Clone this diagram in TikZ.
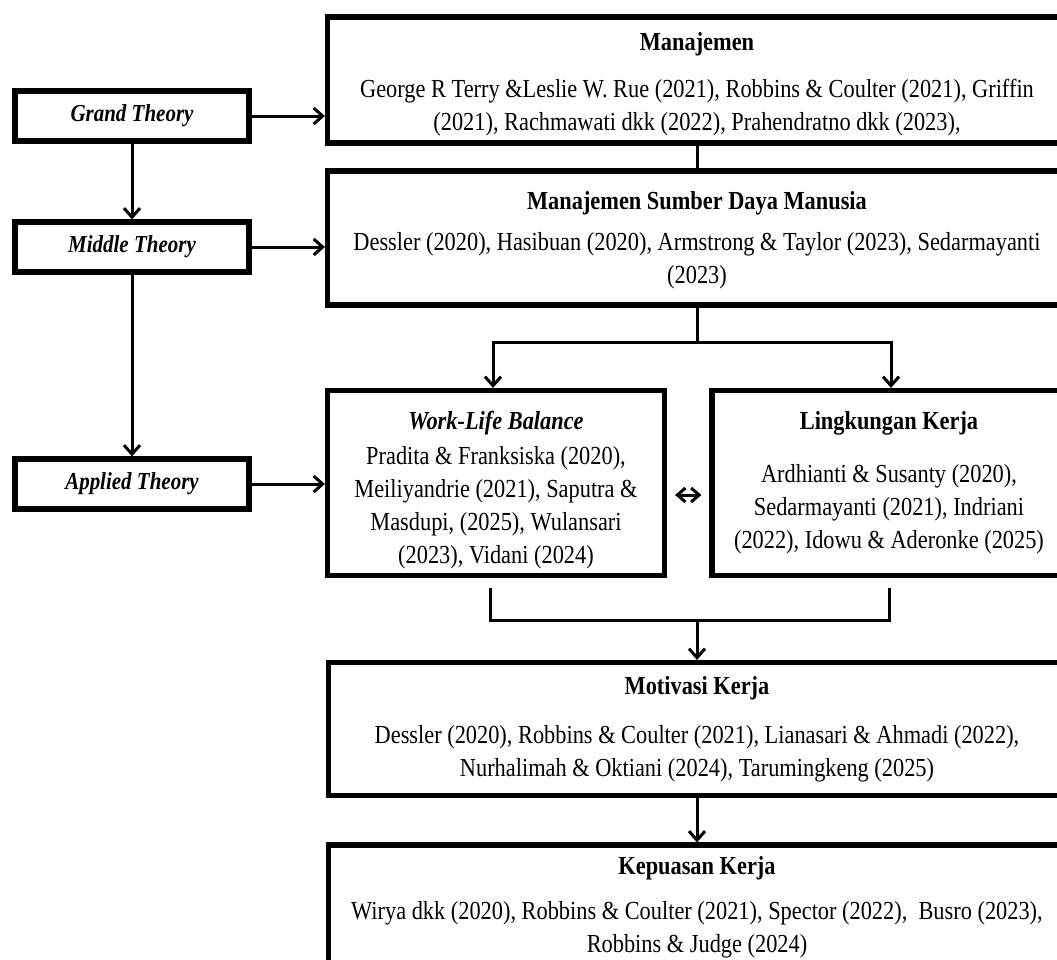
\documentclass[tikz,border=0pt]{standalone}
\usepackage{fontspec}
\setmainfont{Liberation Serif}[FakeStretch=0.86]
\usetikzlibrary{positioning, arrows.meta, calc}

\tikzset{
    refbox/.style={draw, line width=2.6pt, align=center, inner sep=0pt,
        font=\fontsize{13}{16.5}\selectfont},
    theorybox/.style={refbox, minimum width=117pt, minimum height=25pt,
        font=\fontsize{12.2}{15}\selectfont\bfseries\itshape},
    conn/.style={line width=1.5pt},
    arr/.style={conn, -{Straight Barb[length=4.5pt, width=8pt, line width=1.5pt]}},
}

\begin{document}
\begin{tikzpicture}[x=0.5pt, y=-0.5pt]
\path[use as bounding box, clip] (0,0) rectangle (1057,960);
\fill[white] (0,0) rectangle (1057,960);

% Theory levels
\node[theorybox] (grand) at (132,116) {Grand Theory};
\node[theorybox] (middle) at (132,247) {Middle Theory};
\node[theorybox] (applied) at (132,484) {Applied Theory};

% Main boxes
\node[refbox, minimum width=369.5pt, minimum height=63pt] (manaj) at (697,80)
    {\rule{0pt}{13.5pt}\textbf{Manajemen}\\[7pt]
     George R Terry \&Leslie W. Rue (2021), Robbins \& Coulter (2021), Griffin\\
     (2021), Rachmawati dkk (2022), Prahendratno dkk (2023),};
\node[refbox, minimum width=369.5pt, minimum height=67pt] (msdm) at (697,238)
    {\rule{0pt}{11pt}\textbf{Manajemen Sumber Daya Manusia}\\[4pt]
     Dessler (2020), Hasibuan (2020), Armstrong \& Taylor (2023), Sedarmayanti\\
     (2023)};
\node[refbox, minimum width=168.5pt, minimum height=92.5pt] (wlb) at (496,483)
    {\rule{0pt}{16pt}\textbf{\textit{Work-Life Balance}}\\[1pt]
     Pradita \& Franksiska (2020),\\
     Meiliyandrie (2021), Saputra \&\\
     Masdupi, (2025), Wulansari\\
     (2023), Vidani (2024)};
\node[refbox, minimum width=177pt, minimum height=92.5pt] (lk) at (889,483)
    {\textbf{Lingkungan Kerja}\\[10pt]
     Ardhianti \& Susanty (2020),\\
     Sedarmayanti (2021), Indriani\\
     (2022), Idowu \& Aderonke (2025)};
\node[refbox, minimum width=368.5pt, minimum height=66.5pt] (motiv) at (697,729)
    {\textbf{Motivasi Kerja}\\[8pt]
     Dessler (2020), Robbins \& Coulter (2021), Lianasari \& Ahmadi (2022),\\
     Nurhalimah \& Oktiani (2024), Tarumingkeng (2025)};
\node[refbox, minimum width=368.5pt, minimum height=62pt] (kepuas) at (697,907)
    {\textbf{Kepuasan Kerja}\\[6pt]
     Wirya dkk (2020), Robbins \& Coulter (2021), Spector (2022),\ \ Busro (2023),\\
     Robbins \& Judge (2024)};

% Theory arrows
\draw[arr] (grand) -- (middle);
\draw[arr] (middle) -- (applied);
\draw[arr] (grand.east) -- (grand.east -| manaj.west);
\draw[arr] (middle.east) -- (middle.east -| msdm.west);
\draw[arr] (applied.east) -- (applied.east -| wlb.west);

% Flow between boxes
\coordinate (split) at (697,342);
\coordinate (join) at (697,620);
\draw[conn] (manaj) -- (msdm);
\draw[conn] (msdm.south) -- (split);
\draw[arr] (split) -| ([xshift=-1.5pt]wlb.north);
\draw[arr] (split) -| ([xshift=1pt]lk.north);
\draw[conn, <->, >={Straight Barb[length=4pt, width=7pt, line width=1.5pt]},
    shorten <=4pt, shorten >=4pt]
    ([yshift=-6pt]wlb.east) -- ([yshift=-6pt]lk.west);
\draw[conn, shorten <=5pt] ([xshift=-3pt]wlb.south) |- (join);
\draw[conn, shorten <=5pt] (lk.south) |- (join);
\draw[arr] (join) -- (motiv);
\draw[arr] (motiv) -- (kepuas);
\end{tikzpicture}
\end{document}
